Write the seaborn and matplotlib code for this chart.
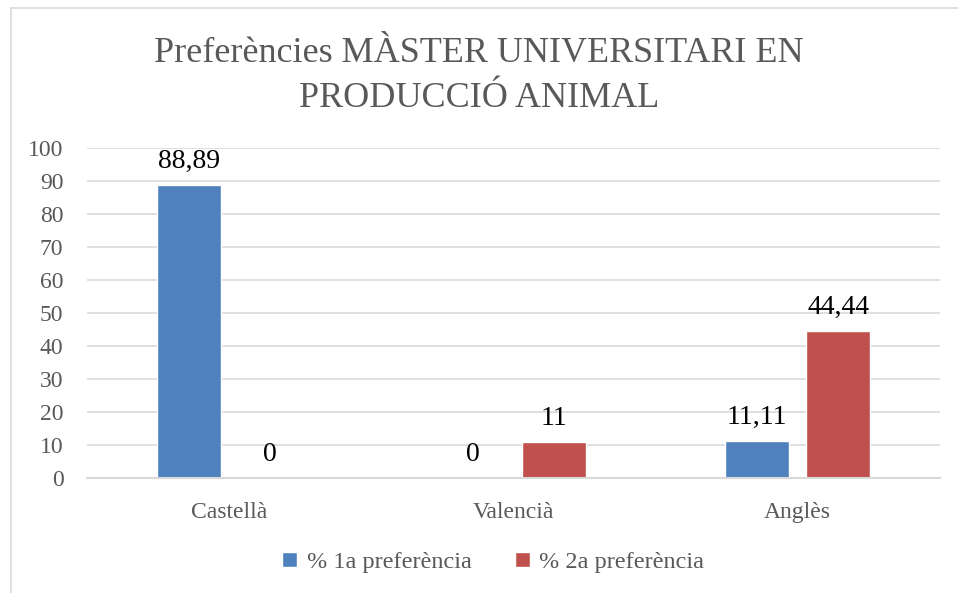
import pandas as pd
import matplotlib.pyplot as plt
import seaborn as sns
from matplotlib.patches import Rectangle

# Chart data
categories = ["Castellà", "Valencià", "Anglès"]
series_names = ["% 1a preferència", "% 2a preferència"]
pref_1a = [88.89, 0, 11.11]
pref_2a = [0, 11, 44.44]
labels_1a = ["88,89", "0", "11,11"]
labels_2a = ["0", "11", "44,44"]
y_ticks = [0, 10, 20, 30, 40, 50, 60, 70, 80, 90, 100]

df = pd.DataFrame({
    "Idioma": categories * 2,
    "Serie": [series_names[0]] * 3 + [series_names[1]] * 3,
    "Valor": pref_1a + pref_2a,
})

sns.set_theme(style="white")
plt.rcParams["font.family"] = ["Liberation Serif", "DejaVu Serif"]

fig = plt.figure(figsize=(9.58, 5.93), dpi=100)
ax = fig.add_axes([0.0908, 0.194, 0.890, 0.5565])

sns.barplot(x="Idioma", y="Valor", hue="Serie", data=df, ax=ax,
            palette=["#4F81BD", "#C0504D"], width=0.57, gap=0.21,
            saturation=1, legend=True)

# Value labels
for cont, labs in zip(ax.containers, [labels_1a, labels_2a]):
    ax.bar_label(cont, labels=labs, padding=8, fontsize=20, color="black")

ax.set_xlim(-0.5, 2.5)
ax.set_ylim(0, 100)
ax.set_yticks(y_ticks)
ax.set_xlabel("")
ax.set_ylabel("")
ax.tick_params(axis="both", labelsize=17, colors="#595959", length=0)
ax.tick_params(axis="x", pad=17)
ax.tick_params(axis="y", pad=17)
ax.yaxis.grid(True, color="#D9D9D9", linewidth=1.2)
ax.set_axisbelow(True)
for s in ["top", "right", "left"]:
    ax.spines[s].set_visible(False)
ax.spines["bottom"].set_color("#D9D9D9")
ax.spines["bottom"].set_linewidth(1.5)

fig.text(0.5, 0.872, "Preferències MÀSTER UNIVERSITARI EN\nPRODUCCIÓ ANIMAL",
         ha="center", va="center", fontsize=26, color="#595959", linespacing=1.45)

ax.get_legend().remove()
handles, lbls = ax.get_legend_handles_labels()
leg = fig.legend(handles, lbls, loc="center", bbox_to_anchor=(0.515, 0.052), ncol=2,
                 frameon=False, fontsize=17.5, handlelength=0.6, handleheight=0.6,
                 handletextpad=0.4, columnspacing=1.8)
for t in leg.get_texts():
    t.set_color("#595959")

# chart frame
fig.patches.append(Rectangle((0.011, -0.1), 1.2, 1.087, transform=fig.transFigure,
                             fill=False, edgecolor="#D9D9D9", linewidth=1.2))

fig.savefig("out.png", dpi=100)
